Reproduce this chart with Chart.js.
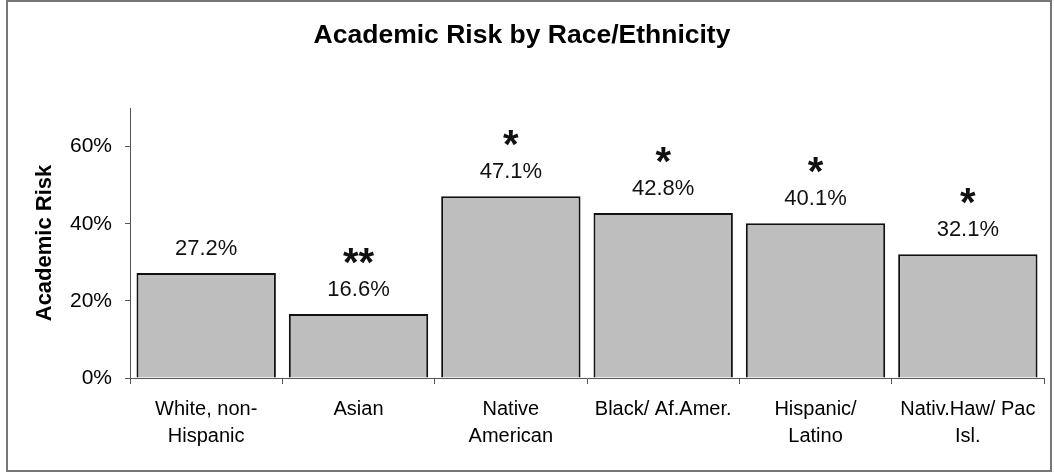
<!DOCTYPE html>
<html>
<head>
<meta charset="utf-8">
<script src="https://cdn.jsdelivr.net/npm/chart.js@4.4.1/dist/chart.umd.min.js"></script>
<style>
    html, body { margin: 0; padding: 0; background: #fff; }
    #frame {
        position: absolute;
        left: 6px;
        top: 0px;
        width: 1042px;
        height: 468px;
        border: 2px solid #777;
    }
    #wrap { position: absolute; left: 0; top: 0; width: 1054px; height: 474px; }
</style>
</head>
<body>
<div id="frame"></div>
<div id="wrap"><canvas id="riskChart" width="1054" height="474"></canvas></div>
<script>
const chartTitle = "Academic Risk by Race/Ethnicity";
const categories = [
    ["White, non-", "Hispanic"],
    "Asian",
    ["Native", "American"],
    "Black/ Af.Amer.",
    ["Hispanic/", "Latino"],
    ["Nativ.Haw/ Pac", "Isl."],
];
const riskValues = [27.2, 16.6, 47.1, 42.8, 40.1, 32.1];
const significance = ["", "**", "*", "*", "*", "*"];
const yTicks = [0, 20, 40, 60];

const FONT = "'Liberation Sans', Arial, sans-serif";

// title sits a little left of the canvas centre, so it is drawn by hand
const titleText = {
    id: "titleText",
    afterDraw(chart) {
        const ctx = chart.ctx;
        ctx.save();
        ctx.fillStyle = "#000";
        ctx.textAlign = "center";
        ctx.textBaseline = "alphabetic";
        ctx.font = `bold 26.5px ${FONT}`;
        ctx.fillText(chartTitle, 522, 43);
        ctx.restore();
    },
};

// value labels plus significance stars above each bar
const barLabels = {
    id: "barLabels",
    afterDatasetsDraw(chart) {
        const ctx = chart.ctx;
        const meta = chart.getDatasetMeta(0);
        ctx.save();
        ctx.fillStyle = "#111";
        ctx.textAlign = "center";
        meta.data.forEach((bar, i) => {
            const labelY = bar.y - 24;
            ctx.textBaseline = "middle";
            ctx.font = `22px ${FONT}`;
            ctx.fillText(riskValues[i].toFixed(1) + "%", bar.x, labelY);
            if (significance[i]) {
                // asterisk glyph sits high in the em box, so place by baseline
                ctx.textBaseline = "alphabetic";
                ctx.font = `bold 40px ${FONT}`;
                ctx.fillText(significance[i], bar.x, labelY - 37 + 23);
            }
        });
        ctx.restore();
    },
};

new Chart(document.getElementById("riskChart"), {
    type: "bar",
    data: {
        labels: categories,
        datasets: [
            {
                data: riskValues,
                backgroundColor: "#bebebe",
                borderColor: "#111",
                borderWidth: 2,
                borderSkipped: "bottom",
                categoryPercentage: 0.915,
                barPercentage: 1,
            },
        ],
    },
    options: {
        responsive: false,
        animation: false,
        layout: {
            padding: { left: 34, right: 10, top: 108, bottom: 12 },
        },
        plugins: {
            legend: { display: false },
            tooltip: { enabled: false },
            title: { display: false },
        },
        scales: {
            x: {
                grid: {
                    offset: true,
                    drawOnChartArea: false,
                    drawTicks: true,
                    tickLength: 6,
                    color: "#555",
                },
                border: { color: "#555", width: 1 },
                ticks: {
                    color: "#000",
                    font: { family: FONT, size: 20, lineHeight: 1.35 },
                    padding: 12,
                    maxRotation: 0,
                    autoSkip: false,
                },
            },
            y: {
                min: 0,
                max: 70,
                afterBuildTicks(axis) {
                    axis.ticks = yTicks.map((value) => ({ value }));
                },
                grid: {
                    drawOnChartArea: false,
                    drawTicks: true,
                    tickLength: 5,
                    color: "#555",
                },
                border: { color: "#555", width: 1 },
                ticks: {
                    color: "#000",
                    font: { family: FONT, size: 21 },
                    padding: 13,
                    callback: (value) => value + "%",
                },
                title: {
                    display: true,
                    text: "Academic Risk",
                    color: "#000",
                    font: { family: FONT, size: 22, weight: "bold", lineHeight: 1 },
                    padding: { top: 0, bottom: 1 },
                },
            },
        },
    },
    plugins: [barLabels, titleText],
});
</script>
</body>
</html>
